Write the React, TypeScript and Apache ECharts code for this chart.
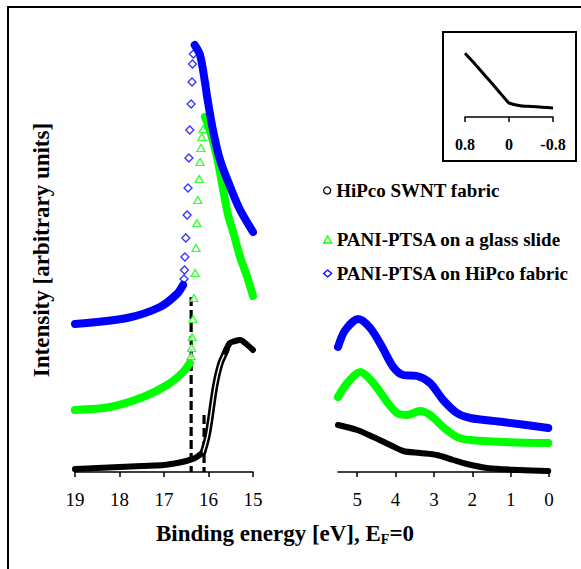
import React, { useEffect, useRef } from "react";
import * as echarts from "echarts";

// ---- Left panel (binding energy 19..15 eV), values in arbitrary units ----
const blackLeftBase: number[][] = [[19.0, 3], [18.5, 4], [18.0, 5], [17.5, 6], [17.0, 7], [16.7, 9], [16.5, 11], [16.3, 14], [16.2, 17], [16.12, 20]];
const blackLeftRise: number[][] = [[16.12, 20], [16.05, 31], [16.01, 39], [15.95, 56], [15.9, 72], [15.85, 86], [15.79, 99], [15.72, 110], [15.67, 115], [15.6, 122]];
const blackLeftTop: number[][] = [[15.62, 120], [15.52, 129], [15.4, 131], [15.29, 132], [15.15, 128], [15.0, 122]];

const greenLeftBase: number[][] = [[19.0, 62], [18.21, 65], [17.47, 75], [16.93, 87], [16.57, 100], [16.42, 109]];
const greenLeftMarks: number[][] = [[16.39, 116], [16.38, 124], [16.37, 135], [16.35, 153], [16.33, 174], [16.3, 199], [16.28, 224], [16.26, 249], [16.24, 272], [16.21, 293], [16.19, 310], [16.17, 324], [16.15, 335], [16.12, 343]];
const greenLeftFall: number[][] = [[16.08, 355], [15.97, 342], [15.81, 315], [15.67, 282], [15.56, 257], [15.44, 239], [15.29, 215], [15.13, 195], [15.0, 176]];

const blueLeftBase: number[][] = [[19.0, 148], [17.83, 154], [17.09, 165], [16.71, 178], [16.57, 187]];
const blueLeftMarks: number[][] = [[16.55, 193], [16.54, 202], [16.53, 215], [16.51, 234], [16.48, 257], [16.46, 284], [16.44, 314], [16.42, 342], [16.39, 368], [16.37, 390], [16.36, 408], [16.34, 418]];
const blueLeftFall: number[][] = [[16.31, 427], [16.19, 417], [16.08, 390], [16.03, 375], [15.9, 342], [15.74, 312], [15.52, 286], [15.3, 263], [15.0, 240]];

const dashA: number[][] = [[16.39, 175], [16.39, 0]];
const dashB: number[][] = [[16.1, 57], [16.1, 0]];

// ---- Right panel (binding energy 5.5..0 eV) ----
const blackRight: number[][] = [[5.5, 47], [5.0, 42], [4.58, 35], [4.14, 27], [3.8, 21], [3.36, 19], [2.92, 17], [2.5, 12], [2.14, 8], [1.61, 4], [0.76, 2], [0.02, 1]];
const greenRight: number[][] = [[5.5, 75], [5.26, 89], [4.92, 100], [4.58, 89], [4.22, 70], [3.96, 59], [3.7, 57], [3.36, 61], [3.1, 57], [2.76, 45], [2.4, 35], [2.06, 32], [1.2, 30], [0.02, 29]];
const blueRight: number[][] = [[5.5, 125], [5.31, 142], [4.97, 153], [4.66, 144], [4.35, 125], [4.06, 105], [3.8, 97], [3.44, 96], [3.1, 89], [2.76, 72], [2.4, 59], [2.06, 54], [1.2, 50], [0.02, 44]];

// ---- Tick values ----
const leftTicks = [15, 16, 17, 18, 19];
const rightTicks = [0, 1, 2, 3, 4, 5];
const insetTicks = [-0.8, 0, 0.8];

// ---- Inset (Fermi edge region) ----
const insetX = [0.8, 0.6, 0.4, 0.2, 0.05, 0, -0.2, -0.4, -0.6, -0.8];
const insetY = [9.1, 7.4, 5.6, 3.8, 2.4, 2.0, 1.6, 1.5, 1.4, 1.3];

const NAMES = ["HiPco SWNT fabric", "PANI-PTSA on a glass slide", "PANI-PTSA on HiPco fabric"];
const BLACK = "#000000";
const GREEN = "#00ff00";
const BLUE = "#0000ff";
const SERIF = "'Liberation Serif', 'Times New Roman', Times, 'DejaVu Serif', serif";

function band(data: number[][], color: string, width: number, axis: number, name?: string, smooth: number | boolean = 0.3) {
  return {
    type: "line",
    name,
    xAxisIndex: axis,
    yAxisIndex: axis,
    data,
    smooth,
    symbol: "none",
    showSymbol: false,
    silent: true,
    lineStyle: { color, width, cap: "round", join: "round" },
  };
}

function marks(data: number[][], symbol: string, color: string, size: number[], axis: number, name: string) {
  return {
    type: "scatter",
    name,
    xAxisIndex: axis,
    yAxisIndex: axis,
    data,
    symbol,
    symbolSize: size,
    silent: true,
    itemStyle: { color: "#ffffff", borderColor: color, borderWidth: 1.3 },
  };
}

function dashed(data: number[][]) {
  return {
    type: "line",
    xAxisIndex: 0,
    yAxisIndex: 0,
    data,
    symbol: "none",
    silent: true,
    lineStyle: { color: BLACK, width: 3.2, type: [9, 4] },
    z: 1,
  };
}

const mainX = (min: number, max: number, ticks: number[]) => ({
  type: "value",
  min,
  max,
  interval: 1,
  inverse: true,
  splitLine: { show: false },
  axisLine: { show: true, onZero: false, lineStyle: { color: BLACK, width: 1.5 } },
  axisTick: { show: true, length: 5, customValues: ticks, lineStyle: { color: BLACK, width: 1.5 } },
  axisLabel: { margin: 18, customValues: ticks, color: BLACK, fontFamily: SERIF, fontSize: 19 },
});

const hiddenY = { type: "value", min: 0, max: 440, show: false };

function legendItem(name: string, icon: string, color: string, top: number) {
  return {
    data: [{ name, icon, itemStyle: { color: "#ffffff", borderColor: color, borderWidth: 1.3 } }],
    left: 323,
    top,
    padding: 0,
    itemWidth: 8,
    itemHeight: 7,
    selectedMode: false,
    textStyle: { color: BLACK, fontFamily: SERIF, fontWeight: "bold", fontSize: 19 },
  };
}

const option: any = {
  animation: false,
  backgroundColor: "#ffffff",
  grid: [
    { left: 75, top: 32, width: 178, height: 440 },
    { left: 338, top: 32, width: 211, height: 440 },
    { left: 465, top: 47, width: 88, height: 70 },
  ],
  xAxis: [
    { ...mainX(15, 19, leftTicks), gridIndex: 0 },
    { ...mainX(0, 5.5, rightTicks), gridIndex: 1 },
    {
      type: "value",
      gridIndex: 2,
      min: -0.8,
      max: 0.8,
      interval: 0.8,
      inverse: true,
      splitLine: { show: false },
      axisLine: { show: true, onZero: false, lineStyle: { color: BLACK, width: 1.5 } },
      axisTick: { show: true, length: 5, customValues: insetTicks, lineStyle: { color: BLACK, width: 1.5 } },
      axisLabel: {
        margin: 19,
        customValues: insetTicks,
        color: BLACK,
        fontFamily: SERIF,
        fontSize: 16,
        fontWeight: "bold",
        formatter: (v: number) => String(Math.round(v * 10) / 10),
      },
    },
  ],
  yAxis: [
    { ...hiddenY, gridIndex: 0 },
    { ...hiddenY, gridIndex: 1 },
    { type: "value", gridIndex: 2, min: 0, max: 10, show: false },
  ],
  legend: [
    legendItem(NAMES[0], "circle", BLACK, 181),
    legendItem(NAMES[1], "triangle", GREEN, 230),
    legendItem(NAMES[2], "diamond", BLUE, 264),
  ],
  graphic: [
    { type: "line", shape: { x1: 7, y1: 7, x2: 581, y2: 7 }, style: { stroke: BLACK, lineWidth: 2 }, silent: true },
    { type: "line", shape: { x1: 8, y1: 7, x2: 8, y2: 569 }, style: { stroke: BLACK, lineWidth: 2 }, silent: true },
    { type: "rect", shape: { x: 443, y: 32, width: 133, height: 129 }, style: { stroke: BLACK, lineWidth: 2, fill: "none" }, silent: true, z: -1 },
    {
      type: "text",
      x: 41,
      y: 250,
      rotation: Math.PI / 2,
      silent: true,
      style: { text: "Intensity [arbitrary units]", fontFamily: SERIF, fontWeight: "bold", fontSize: 23, fill: BLACK, align: "center", verticalAlign: "middle" },
    },
    {
      type: "text",
      x: 285,
      y: 533,
      silent: true,
      style: {
        text: "{a|Binding energy [eV], E}{s|F}{a|=0}",
        align: "center",
        verticalAlign: "middle",
        rich: {
          a: { fontFamily: SERIF, fontWeight: "bold", fontSize: 23, fill: BLACK, color: BLACK, lineHeight: 26 },
          s: { fontFamily: SERIF, fontWeight: "bold", fontSize: 14, fill: BLACK, color: BLACK, verticalAlign: "bottom", lineHeight: 26 },
        },
      },
    },
  ],
  series: [
    // dashed guide lines
    dashed(dashA),
    dashed(dashB),
    // left panel
    band(blackLeftBase, BLACK, 6, 0, NAMES[0]),
    band(blackLeftRise, BLACK, 6.5, 0, NAMES[0]),
    band(blackLeftRise, "#ffffff", 1.4, 0, undefined),
    band(blackLeftTop, BLACK, 6, 0, NAMES[0]),
    band(greenLeftBase, GREEN, 8, 0, NAMES[1]),
    marks(greenLeftMarks, "triangle", GREEN, [8, 7], 0, NAMES[1]),
    band(greenLeftFall, GREEN, 8, 0, NAMES[1]),
    band(blueLeftBase, BLUE, 8, 0, NAMES[2]),
    marks(blueLeftMarks, "diamond", BLUE, [8, 8], 0, NAMES[2]),
    band(blueLeftFall, BLUE, 8, 0, NAMES[2]),
    // right panel
    band(blackRight, BLACK, 6, 1, NAMES[0]),
    band(greenRight, GREEN, 8, 1, NAMES[1]),
    band(blueRight, BLUE, 8, 1, NAMES[2]),
    // inset
    {
      type: "line",
      xAxisIndex: 2,
      yAxisIndex: 2,
      data: insetX.map((x, i) => [x, insetY[i]]),
      symbol: "none",
      silent: true,
      smooth: 0.2,
      lineStyle: { color: BLACK, width: 3 },
    },
  ],
};

export default function App() {
  const ref = useRef<HTMLDivElement>(null);
  useEffect(() => {
    if (!ref.current) return;
    const chart = echarts.init(ref.current, null, { renderer: "svg" });
    chart.setOption(option);
    return () => chart.dispose();
  }, []);
  return (
    <div
      ref={ref}
      style={{ position: "fixed", left: 0, top: 0, width: 581, height: 569, background: "#ffffff" }}
    />
  );
}
